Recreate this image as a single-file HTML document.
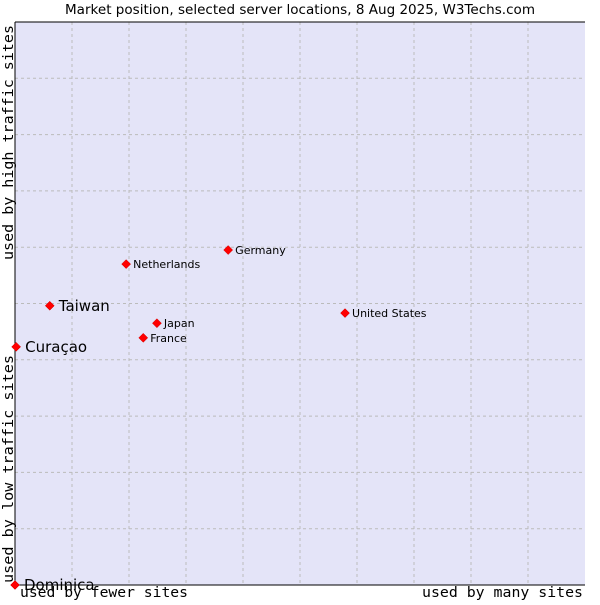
<!DOCTYPE html>
<html><head><meta charset="utf-8"><style>
body{margin:0;background:#fff}
svg text{font-family:"DejaVu Sans","Liberation Sans",sans-serif}
.mono{font-family:"DejaVu Sans Mono","Liberation Mono",monospace}
</style></head><body>
<svg id="c" width="600" height="600">
<text x="300" y="14" text-anchor="middle" font-size="13" textLength="470" lengthAdjust="spacingAndGlyphs" fill="#000">Market position, selected server locations, 8 Aug 2025, W3Techs.com</text>
<rect x="15" y="22" width="570" height="563" fill="#e4e4f8"/>
<g id="grid"></g>
<line x1="15" y1="22" x2="15" y2="585" stroke="#000"/>
<line x1="15" y1="585" x2="585" y2="585" stroke="#000"/>
<line x1="15" y1="22" x2="585" y2="22" stroke="#000"/>
<text class="mono" x="20" y="597" font-size="14.5" textLength="168" lengthAdjust="spacingAndGlyphs">used by fewer sites</text>
<text class="mono" x="422" y="597" font-size="14.5" textLength="161" lengthAdjust="spacingAndGlyphs">used by many sites</text>
<text class="mono" transform="translate(13,583) rotate(-90)" font-size="14.5" textLength="228" lengthAdjust="spacingAndGlyphs">used by low traffic sites</text>
<text class="mono" transform="translate(13,260) rotate(-90)" font-size="14.5" textLength="235" lengthAdjust="spacingAndGlyphs">used by high traffic sites</text>
<g id="pts"></g>
</svg>
<script>
const names=["Dominica","Curaçao","Taiwan","Netherlands","Germany","Japan","France","United States"];
const xVals=[0,0.2,6.1,19.5,37.4,24.9,22.5,57.9];
const yVals=[0,42.3,49.6,57,59.5,46.5,43.9,48.3];
const big=[true,true,true,false,false,false,false,false];
const L=15,R=585,T=22,B=585;
const sx=v=>L+v/100*(R-L), sy=v=>B-v/100*(B-T);
const NS="http://www.w3.org/2000/svg";
const g=document.getElementById('grid');
for(let i=1;i<10;i++){
  const v=document.createElementNS(NS,'line');
  
  
  v.setAttribute('x1',sx(i*10));v.setAttribute('x2',sx(i*10));v.setAttribute('y1',T);v.setAttribute('y2',B);
  v.setAttribute('stroke','#bbb');v.setAttribute('stroke-dasharray','3,3');g.appendChild(v);
  const h=document.createElementNS(NS,'line');
  
  
  h.setAttribute('y1',sy(i*10));h.setAttribute('y2',sy(i*10));h.setAttribute('x1',L);h.setAttribute('x2',R);
  h.setAttribute('stroke','#bbb');h.setAttribute('stroke-dasharray','3,3');g.appendChild(h);
}
const p=document.getElementById('pts');
names.forEach((n,i)=>{
  const x=sx(xVals[i]),y=sy(yVals[i]);
  const d=document.createElementNS(NS,'polygon');
  
  
  d.setAttribute('points',`${x},${y-4.5} ${x+4.5},${y} ${x},${y+4.5} ${x-4.5},${y}`);
  d.setAttribute('fill','#f00');d.setAttribute('stroke','#c00');d.setAttribute('stroke-width','0.5');p.appendChild(d);
  const t=document.createElementNS(NS,'text');
  
  
  t.setAttribute('x',x+(big[i]?9:7));t.setAttribute('y',y+(big[i]?5:4));
  t.setAttribute('font-size',big[i]?15:11);t.textContent=n;p.appendChild(t);
});
</script>
</body></html>
